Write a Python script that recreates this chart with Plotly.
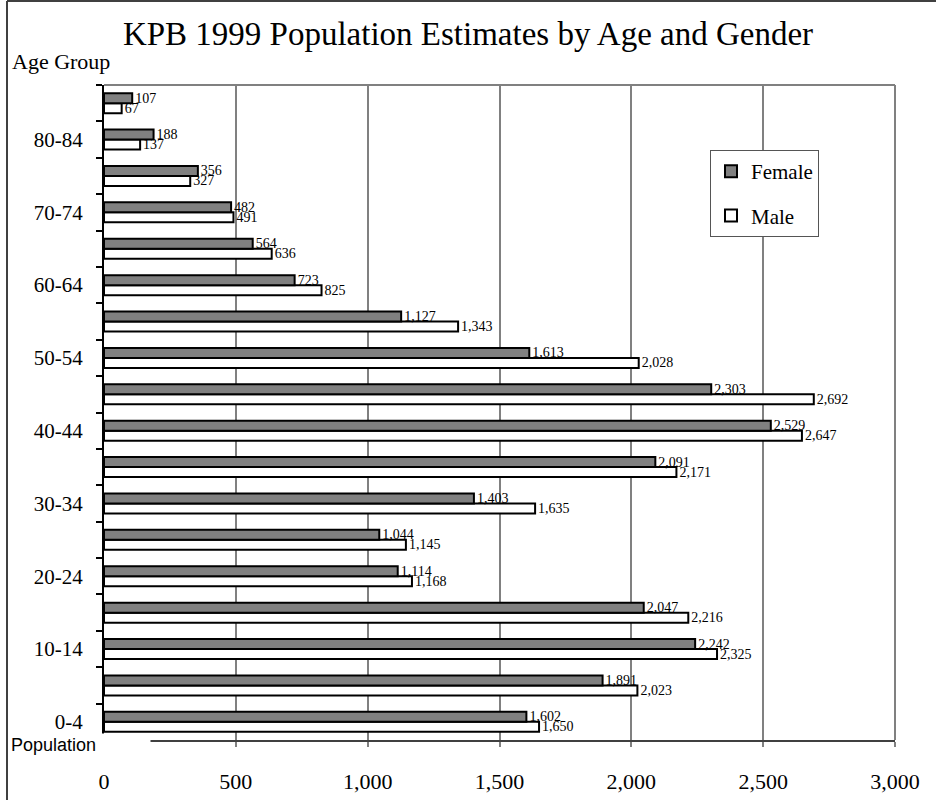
import plotly.graph_objects as go

age_groups = ["0-4", "5-9", "10-14", "15-19", "20-24", "25-29", "30-34", "35-39",
              "40-44", "45-49", "50-54", "55-59", "60-64", "65-69", "70-74", "75-79",
              "80-84", "85+"]
female = [1602, 1891, 2242, 2047, 1114, 1044, 1403, 2091, 2529, 2303, 1613, 1127,
          723, 564, 482, 356, 188, 107]
male = [1650, 2023, 2325, 2216, 1168, 1145, 1635, 2171, 2647, 2692, 2028, 1343,
        825, 636, 491, 327, 137, 67]
tick_labels = [g if i % 2 == 0 else "" for i, g in enumerate(age_groups)]
x_ticks = [0, 500, 1000, 1500, 2000, 2500, 3000]

serif = "Liberation Serif"

fig = go.Figure()
fig.add_trace(go.Bar(
    y=age_groups, x=male, orientation="h", name="Male",
    marker=dict(color="white", line=dict(color="black", width=2)),
    text=male, texttemplate="%{x:,}", textposition="outside",
    textfont=dict(family=serif, size=14, color="black"),
    cliponaxis=False, constraintext="none", legendgroup="m", legendrank=2,
))
fig.add_trace(go.Bar(
    y=age_groups, x=female, orientation="h", name="Female",
    marker=dict(color="#808080", line=dict(color="black", width=2)),
    text=female, texttemplate="%{x:,}", textposition="outside",
    textfont=dict(family=serif, size=14, color="black"),
    cliponaxis=False, constraintext="none", legendgroup="f", legendrank=1,
))

W, H = 936, 800
L, R, T, B = 104, 41, 85, 60
pw, ph = W - L - R, H - T - B

def px(xp):
    return (xp - L) / pw

def py(yp):
    return (H - B - yp) / ph

fig.update_layout(
    width=W, height=H,
    margin=dict(l=L, r=R, t=T, b=B, autoexpand=False),
    paper_bgcolor="white", plot_bgcolor="white",
    barmode="group", bargap=0.45, bargroupgap=0,
    title=dict(text="KPB 1999 Population Estimates by Age and Gender",
               x=0.5, xanchor="center", y=1 - 33 / H, yanchor="middle",
               font=dict(family=serif, size=33, color="black")),
    showlegend=True,
    legend=dict(x=px(710), y=py(150), xanchor="left", yanchor="top",
                bgcolor="white", bordercolor="#555555", borderwidth=1,
                font=dict(family=serif, size=21, color="black"),
                traceorder="grouped", tracegroupgap=14,
                itemwidth=30),
    xaxis=dict(range=[0, 3000], tickvals=x_ticks, tickformat=",",
               automargin=False,
               showgrid=True, gridcolor="#808080", gridwidth=1.5,
               zeroline=False, showline=True, linecolor="#404040", linewidth=2,
               ticks="outside", ticklen=5, tickcolor="#808080", tickwidth=1.5,
               ticklabelstandoff=16,
               tickfont=dict(family=serif, size=22, color="black"),
               fixedrange=True),
    yaxis=dict(type="category", categoryorder="array", categoryarray=age_groups,
               tickvals=age_groups, ticktext=tick_labels, tickson="boundaries",
               automargin=False,
               showgrid=False, zeroline=False,
               showline=True, linecolor="black", linewidth=2,
               ticks="outside", ticklen=6, tickcolor="black", tickwidth=1.5,
               ticklabelstandoff=15,
               tickfont=dict(family=serif, size=21, color="black"),
               range=[-0.5, len(age_groups) - 0.5], fixedrange=True),
    shapes=[
        dict(type="line", xref="paper", yref="paper", x0=0, x1=1, y0=1, y1=1,
             line=dict(color="#808080", width=2)),
        dict(type="line", xref="paper", yref="paper", x0=1, x1=1, y0=0, y1=1,
             line=dict(color="#808080", width=2)),
        dict(type="line", xref="paper", yref="paper", x0=px(7), x1=px(W), y0=py(1), y1=py(1),
             line=dict(color="#404040", width=2)),
        dict(type="line", xref="paper", yref="paper", x0=px(7), x1=px(7), y0=py(1), y1=py(H),
             line=dict(color="#404040", width=2)),
    ],
    annotations=[
        dict(text="Age Group", xref="paper", yref="paper", x=px(10), y=py(62),
             xanchor="left", yanchor="middle", showarrow=False,
             font=dict(family=serif, size=22, color="black")),
        dict(text="Population", xref="paper", yref="paper",
             x=px(9), y=py(745), xanchor="left", yanchor="middle", showarrow=False,
             bgcolor="white", borderpad=1, width=138, align="left",
             font=dict(family="Liberation Sans", size=18, color="black")),
    ],
)

fig.write_html("out.html", config={"displayModeBar": False},
               post_script="document.body.style.margin='0';")
